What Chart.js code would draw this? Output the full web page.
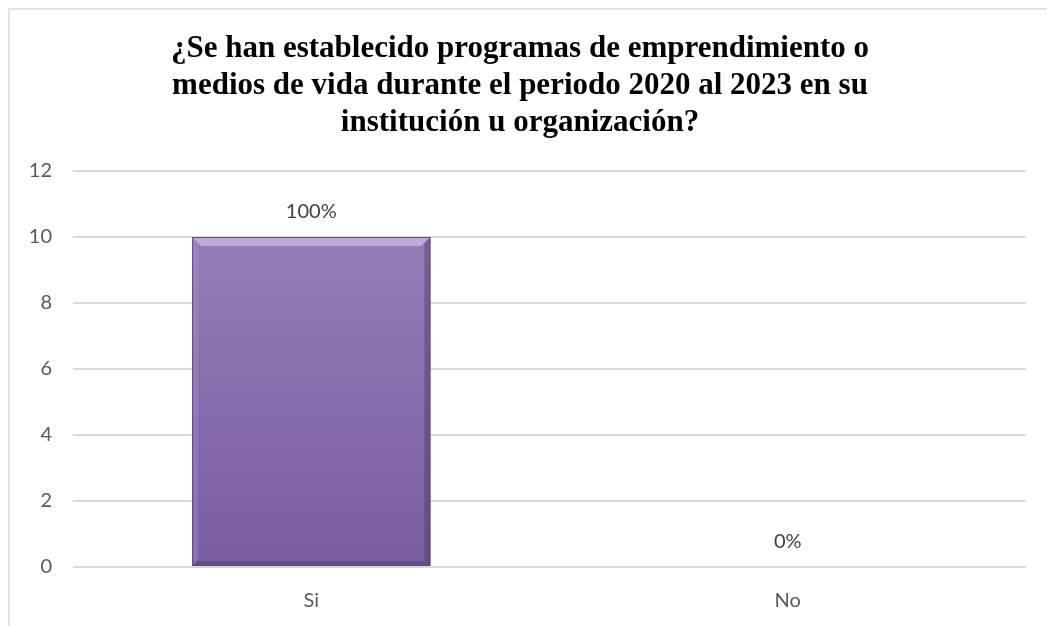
<!DOCTYPE html>
<html>
<head>
<meta charset="utf-8">
<script src="https://cdn.jsdelivr.net/npm/chart.js@4.4.1/dist/chart.umd.min.js"></script>
<style>
  html, body { margin: 0; padding: 0; background: #fff; }
  #wrap { width: 1047px; height: 626px; }
</style>
</head>
<body>
<div id="wrap"><canvas id="myChart" width="1047" height="626"></canvas></div>
<script>
// data
const categories = ['Si', 'No'];
const counts = [10, 0];
const percentLabels = ['100%', '0%'];
const yMin = 0, yMax = 12, yStep = 2;
const titleLines = [
    '¿Se han establecido programas de emprendimiento o',
    'medios de vida durante el periodo 2020 al 2023 en su',
    'institución u organización?'
];

const tickFont = { family: 'Lato', size: 20 };

// light frame round the chart, like the office export
const frame = {
    id: 'frame',
    beforeDraw(chart) {
        const c = chart.ctx;
        c.save();
        c.strokeStyle = '#d9d9d9';
        c.lineWidth = 1.5;
        c.beginPath();
        c.moveTo(9, chart.height);
        c.lineTo(9, 9);
        c.lineTo(chart.width, 9);
        c.stroke();
        c.restore();
    }
};

// bevel look on the bars + the percent labels
const barExtras = {
    id: 'barExtras',
    afterDatasetsDraw(chart) {
        const c = chart.ctx;
        const meta = chart.getDatasetMeta(0);
        c.save();
        meta.data.forEach((bar, i) => {
            const h = bar.base - bar.y;
            const left = bar.x - bar.width / 2, right = bar.x + bar.width / 2;
            if (h > 2) {
                const b = 9;
                // top highlight
                c.fillStyle = 'rgba(225,210,245,0.55)';
                c.beginPath();
                c.moveTo(left, bar.y); c.lineTo(right, bar.y);
                c.lineTo(right - b, bar.y + b); c.lineTo(left + b, bar.y + b);
                c.closePath(); c.fill();
                // right shade
                c.fillStyle = 'rgba(60,40,90,0.35)';
                c.beginPath();
                c.moveTo(right, bar.y); c.lineTo(right, bar.base);
                c.lineTo(right - 6, bar.base - 6); c.lineTo(right - 6, bar.y + 6);
                c.closePath(); c.fill();
                // left light edge
                c.fillStyle = 'rgba(170,150,205,0.35)';
                c.beginPath();
                c.moveTo(left, bar.y); c.lineTo(left + 6, bar.y + 6);
                c.lineTo(left + 6, bar.base - 6); c.lineTo(left, bar.base);
                c.closePath(); c.fill();
                // bottom shade
                c.fillStyle = 'rgba(60,40,90,0.3)';
                c.beginPath();
                c.moveTo(left, bar.base); c.lineTo(right, bar.base);
                c.lineTo(right - 5, bar.base - 5); c.lineTo(left + 5, bar.base - 5);
                c.closePath(); c.fill();
                c.strokeStyle = '#5e4784';
                c.lineWidth = 1;
                c.strokeRect(left + 0.5, bar.y + 0.5, bar.width - 1, h - 1);
            }
            c.fillStyle = '#404040';
            c.font = '20px Lato';
            c.textAlign = 'center';
            c.textBaseline = 'middle';
            c.fillText(percentLabels[i], bar.x, bar.y - 25);
        });
        c.restore();
    }
};

const ctx = document.getElementById('myChart');

new Chart(ctx, {
    type: 'bar',
    data: {
        labels: categories,
        datasets: [{
            data: counts,
            backgroundColor: (context) => {
                const area = context.chart.chartArea;
                if (!area) return '#8a6db0';
                const g = context.chart.ctx.createLinearGradient(0, area.top, 0, area.bottom);
                g.addColorStop(0, '#9b83bc');
                g.addColorStop(1, '#7a5ca0');
                return g;
            },
            borderWidth: 0,
            categoryPercentage: 1,
            barPercentage: 0.5
        }]
    },
    options: {
        responsive: false,
        animation: false,
        layout: { padding: { left: 14, right: 21, top: 0, bottom: 0 } },
        plugins: {
            legend: { display: false },
            tooltip: { enabled: false },
            title: {
                display: true,
                text: titleLines,
                color: '#000',
                font: { family: 'Liberation Serif', size: 31, weight: 'bold', lineHeight: 1.194 },
                padding: { top: 30, bottom: 30 }
            }
        },
        scales: {
            x: {
                grid: { display: false, drawTicks: false },
                border: { display: false },
                ticks: { color: '#595959', font: tickFont, padding: 22 },
                afterFit(scale) { scale.height = 59; }
            },
            y: {
                min: yMin,
                max: yMax,
                ticks: { stepSize: yStep, color: '#595959', font: tickFont, padding: 21 },
                grid: { color: '#d9d9d9', lineWidth: 2, drawTicks: false },
                border: { display: false },
                afterFit(scale) { scale.width = 59; }
            }
        }
    },
    plugins: [frame, barExtras]
});
</script>
</body>
</html>
